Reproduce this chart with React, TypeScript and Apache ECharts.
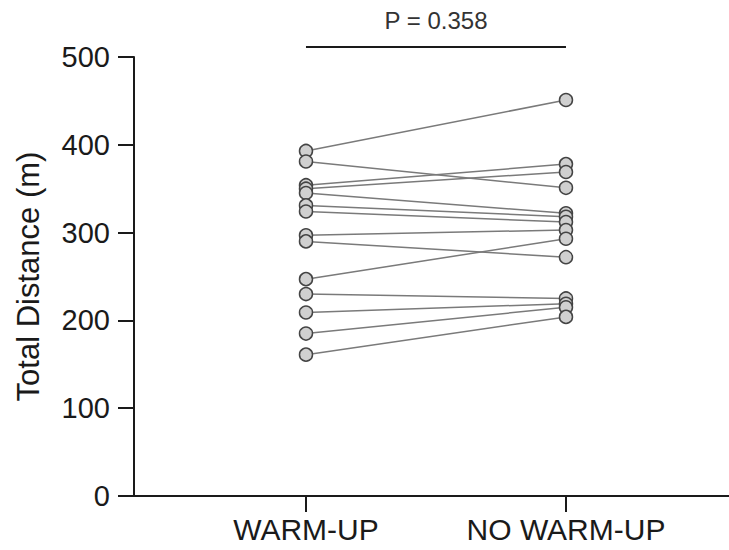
import React, { useEffect, useRef } from "react";
import * as echarts from "echarts";

const groups = ["WARM-UP", "NO WARM-UP"];
const warmUp = [393, 381, 354, 350, 345, 331, 324, 297, 290, 247, 230, 209, 185, 161];
const noWarmUp = [451, 351, 378, 369, 322, 318, 312, 303, 272, 293, 225, 219, 215, 204];
const yMin = 0;
const yMax = 500;
const yStep = 100;
const yTitle = "Total Distance (m)";
const pLabel = "P = 0.358";

const FONT = "'Liberation Sans', Arial, sans-serif";

export default function App() {
  const ref = useRef<HTMLDivElement>(null);
  useEffect(() => {
    if (!ref.current) return;
    const chart = echarts.init(ref.current, undefined, { renderer: "svg" });
    const pairLines = warmUp.map((v, i) => ({ coords: [[0, v], [1, noWarmUp[i]]] }));
    const points: number[][] = [];
    warmUp.forEach((v) => points.push([0, v]));
    noWarmUp.forEach((v) => points.push([1, v]));
    chart.setOption({
      animation: false,
      grid: { left: 134, right: 0, top: 57, bottom: 54, containLabel: false },
      xAxis: {
        type: "value",
        min: -0.6615,
        max: 1.627,
        splitLine: { show: false },
        axisLine: { show: true, onZero: false, lineStyle: { color: "#1a1a1a", width: 2 } },
        axisTick: { show: true, customValues: [0, 1], length: 16, lineStyle: { color: "#1a1a1a", width: 2 } },
        axisLabel: {
          customValues: [0, 1],
          formatter: (v: number) => groups[Math.round(v)] ?? "",
          fontSize: 30,
          fontFamily: FONT,
          color: "#1a1a1a",
          margin: 18,
        },
      },
      yAxis: {
        type: "value",
        min: yMin,
        max: yMax,
        interval: yStep,
        name: yTitle,
        nameLocation: "middle",
        nameGap: 90,
        nameTextStyle: { fontSize: 31, fontFamily: FONT, color: "#1a1a1a" },
        splitLine: { show: false },
        axisLine: { show: true, onZero: false, lineStyle: { color: "#1a1a1a", width: 2 } },
        axisTick: { show: true, length: 16, lineStyle: { color: "#1a1a1a", width: 2 } },
        axisLabel: { fontSize: 29, fontFamily: FONT, color: "#1a1a1a", margin: 24 },
      },
      series: [
        {
          type: "lines",
          coordinateSystem: "cartesian2d",
          data: pairLines,
          lineStyle: { color: "#7a7a7a", width: 1.5, opacity: 1 },
          silent: true,
          z: 2,
        },
        {
          type: "scatter",
          data: points,
          symbol: "circle",
          symbolSize: 13,
          itemStyle: { color: "#d0d0d0", borderColor: "#444444", borderWidth: 1.5, opacity: 1 },
          z: 3,
        },
      ],
    });
    const p0 = chart.convertToPixel({ gridIndex: 0 }, [0, yMax]) as number[];
    const p1 = chart.convertToPixel({ gridIndex: 0 }, [1, yMax]) as number[];
    chart.setOption({
      graphic: [
        {
          type: "line",
          shape: { x1: p0[0], y1: 47, x2: p1[0], y2: 47 },
          style: { stroke: "#1a1a1a", lineWidth: 2 },
        },
        {
          type: "text",
          x: (p0[0] + p1[0]) / 2,
          y: 20,
          style: {
            text: pLabel,
            fontSize: 24,
            fontFamily: FONT,
            fill: "#333333",
            align: "center",
            verticalAlign: "middle",
          },
        },
      ],
    });
    return () => chart.dispose();
  }, []);
  return <div ref={ref} style={{ width: 729, height: 550, position: "absolute", left: 0, top: 0 }} />;
}
